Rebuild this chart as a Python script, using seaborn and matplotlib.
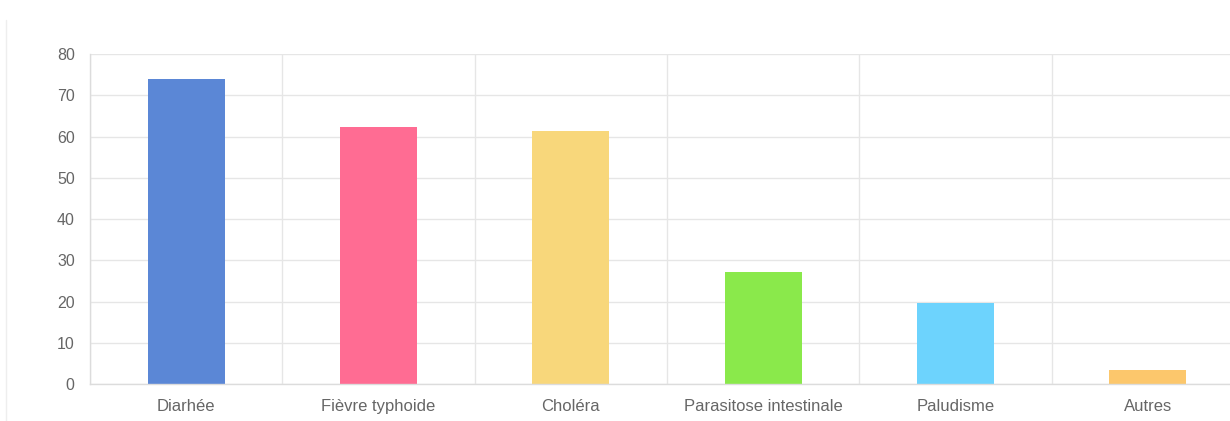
import matplotlib
matplotlib.use("Agg")
import matplotlib.pyplot as plt
import seaborn as sns
import numpy as np
import pandas as pd
from matplotlib.ticker import FixedLocator

categories = ["Diarhée", "Fièvre typhoide", "Choléra", "Parasitose intestinale", "Paludisme", "Autres"]
values = [73.9, 62.3, 61.3, 27.2, 19.6, 3.4]
colors = ["#5b87d6", "#ff6c93", "#f8d77b", "#8ae94b", "#6dd3fd", "#fcc76c"]
yticks = [0, 10, 20, 30, 40, 50, 60, 70, 80]

df = pd.DataFrame({"cat": categories, "val": values})

sns.set_theme(style="white")
plt.rcParams['font.family'] = ['Liberation Sans', 'DejaVu Sans']

fig = plt.figure(figsize=(12.3, 4.21), dpi=100)
ax = fig.add_axes([90/1230, 37/421, 1154/1230, 330/421])

sns.barplot(data=df, x="cat", y="val", hue="cat", palette=colors, legend=False,
            width=0.4, ax=ax, saturation=1, edgecolor="none")

grid_c = "#e6e6e6"
ax.set_xlim(-0.5, len(categories) - 0.5)
ax.set_ylim(0, 80)
ax.set_yticks(yticks)
ax.set_xlabel("")
ax.set_ylabel("")

ax.xaxis.set_minor_locator(FixedLocator(np.arange(-0.5, len(categories), 1.0)))
ax.tick_params(axis="x", which="major", length=0, pad=11, labelsize=12, labelcolor="#666666")
ax.tick_params(axis="x", which="minor", length=10, color=grid_c, width=1)
ax.tick_params(axis="y", which="major", length=9, color=grid_c, width=1, pad=2,
               labelsize=11.5, labelcolor="#666666")
ax.grid(True, axis="y", which="major", color=grid_c, linewidth=1)
ax.grid(True, axis="x", which="minor", color=grid_c, linewidth=1)
ax.grid(False, axis="x", which="major")
ax.set_axisbelow(True)

for s in ["top", "right"]:
    ax.spines[s].set_visible(False)
for s in ["left", "bottom"]:
    ax.spines[s].set_color("#dcdcdc")
    ax.spines[s].set_linewidth(1)

# faint page border on the left
fig.add_artist(plt.Line2D([6/1230, 6/1230], [0, 1 - 20/421], color="#eeeeee", linewidth=1))

fig.savefig("out.png", dpi=100)
